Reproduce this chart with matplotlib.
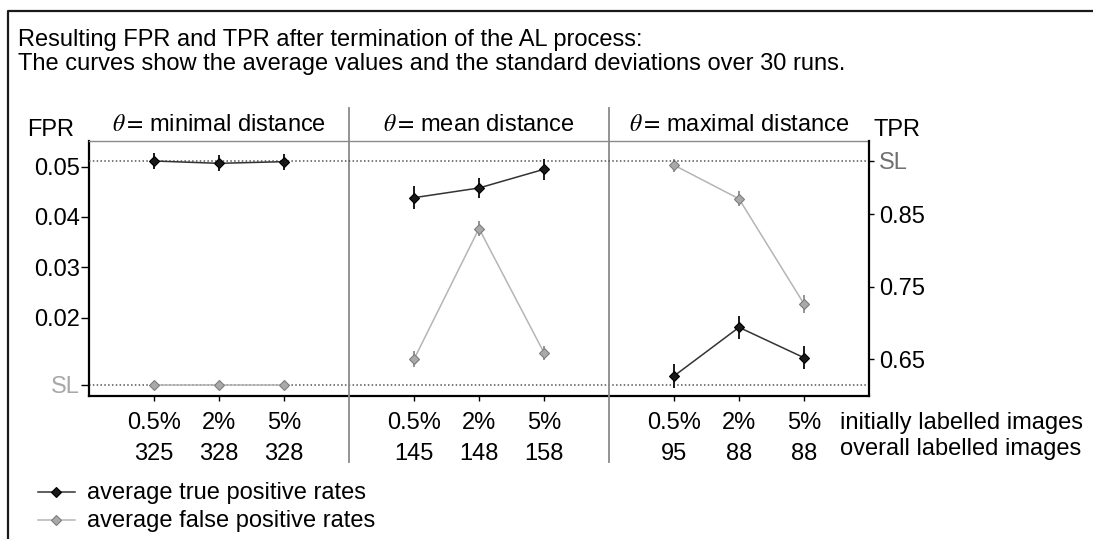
import matplotlib
matplotlib.use("Agg")
import matplotlib.pyplot as plt
from matplotlib.lines import Line2D
from matplotlib import transforms

plt.rcParams['font.family'] = ['Liberation Sans', 'DejaVu Sans']
plt.rcParams['mathtext.fontset'] = 'stix'

# ---- data ---------------------------------------------------------------
panel_titles = [r'$\theta=\,$minimal distance',
                r'$\theta=\,$mean distance',
                r'$\theta=\,$maximal distance']
initial_pct = ['0.5%', '2%', '5%']
overall_labelled = [325, 328, 328, 145, 148, 158, 95, 88, 88]

tpr_mean = [0.9235, 0.9203, 0.9226, 0.8729, 0.8863, 0.9121, 0.6270, 0.6941, 0.6522]
tpr_std = [0.0115, 0.0110, 0.0110, 0.0156, 0.0133, 0.0147, 0.0160, 0.0159, 0.0160]
fpr_mean = [0.0066, 0.0066, 0.0066, 0.0117, 0.0377, 0.0130, 0.0503, 0.0436, 0.0227]
fpr_std = [0.0002, 0.0002, 0.0002, 0.00156, 0.0014, 0.0014, 0.0013, 0.0015, 0.0017]

fpr_sl = 0.0066
tpr_sl = 0.924
fpr_ticks = [0.02, 0.03, 0.04, 0.05]
tpr_ticks = [0.65, 0.75, 0.85]

# ---- figure ---------------------------------------------------------------
W, H = 1093, 539
FS = 17
fig = plt.figure(figsize=(W / 100, H / 100), dpi=100)


def fx(px):
    return px / W


def fy(py):
    return 1 - py / H


ax = fig.add_axes([fx(89), fy(396), fx(869) - fx(89), fy(141) - fy(396)])
ax2 = ax.twinx()

n_panels = len(panel_titles)
n_per = len(initial_pct)
xs = [p * (n_per + 1) + i + 1 for p in range(n_panels) for i in range(n_per)]

TPR_C = '#1a1a1a'
FPR_LINE = '#b5b5b5'
FPR_FACE = '#a9a9a9'
FPR_EDGE = '#7d7d7d'

for p in range(n_panels):
    sl = slice(p * n_per, (p + 1) * n_per)
    ax.errorbar(xs[sl], fpr_mean[sl], yerr=fpr_std[sl], fmt='-D',
                color=FPR_LINE, lw=1.1, ecolor='#8c8c8c', elinewidth=1.3,
                capsize=0, markersize=5.0, markerfacecolor=FPR_FACE,
                markeredgecolor=FPR_EDGE, markeredgewidth=0.8, zorder=3)
    ax2.errorbar(xs[sl], tpr_mean[sl], yerr=tpr_std[sl], fmt='-D',
                 color='#333333', lw=1.1, ecolor=TPR_C, elinewidth=1.4,
                 capsize=0, markersize=5.0, markerfacecolor=TPR_C,
                 markeredgecolor='#000000', markeredgewidth=0.8, zorder=3)

ax.axhline(fpr_sl, ls=(0, (1, 1.5)), color='#555555', lw=1.1, zorder=1)
ax2.axhline(tpr_sl, ls=(0, (1, 1.5)), color='#555555', lw=1.1, zorder=1)

ax.set_xlim(0, n_panels * (n_per + 1))
ax.set_ylim(0.0044, 0.0551)
ax2.set_ylim(0.5994, 0.9511)

ax.set_xticks(xs, [f'{initial_pct[i % n_per]}\n{n}' for i, n in enumerate(overall_labelled)])
for lbl in ax.get_xticklabels():
    lbl.set_linespacing(1.5)
ax.set_yticks([fpr_sl] + fpr_ticks, ['SL'] + [f'{v:.2f}' for v in fpr_ticks])
ax2.set_yticks(tpr_ticks + [tpr_sl], [f'{v:.2f}' for v in tpr_ticks] + ['SL'])

ax.tick_params(axis='y', length=5.8, width=1, pad=0.8, labelsize=FS, colors='black')
ax.tick_params(axis='x', length=3.6, width=1, pad=8, labelsize=FS)
ax2.tick_params(axis='y', length=3.6, width=1, pad=3.6, labelsize=FS)
ax.get_yticklabels()[0].set_color('#a8a8a8')
ax2.get_yticklabels()[-1].set_color('#707070')

for name, sp in ax.spines.items():
    sp.set_linewidth(1.6)
    sp.set_color('black')
ax.spines['top'].set_color('#8a8a8a')
ax.spines['top'].set_linewidth(1.0)
ax.spines['right'].set_visible(False)
for name in ['left', 'top', 'bottom']:
    ax2.spines[name].set_visible(False)
ax2.spines['right'].set_linewidth(1.6)
ax2.spines['right'].set_color('black')

# panel separators, reaching from the title row down past the tick labels
trans = transforms.blended_transform_factory(ax.transData, fig.transFigure)
for p in range(1, n_panels):
    xv = p * (n_per + 1)
    ax.plot([xv, xv], [fy(108), fy(462)], transform=trans, color='#8a8a8a',
            lw=1.3, clip_on=False, zorder=5)

# panel headings
for p, title in enumerate(panel_titles):
    ax.text(p * (n_per + 1) + (n_per + 1) / 2, fy(131), title, transform=trans,
            ha='center', va='baseline', fontsize=FS)

fig.text(fx(51), fy(136), 'FPR', ha='center', va='baseline', fontsize=FS)
fig.text(fx(873), fy(136), 'TPR', ha='left', va='baseline', fontsize=FS)

fig.text(fx(18), fy(46), 'Resulting FPR and TPR after termination of the AL process:',
         ha='left', va='baseline', fontsize=FS)
fig.text(fx(18), fy(70), 'The curves show the average values and the standard deviations over 30 runs.',
         ha='left', va='baseline', fontsize=FS)

fig.text(fx(840), fy(429), 'initially labelled images', ha='left', va='baseline', fontsize=FS)
fig.text(fx(840), fy(455), 'overall labelled images', ha='left', va='baseline', fontsize=FS)

# legend
leg_rows = [
    (492, 'average true positive rates', '#333333', TPR_C, '#000000'),
    (520, 'average false positive rates', FPR_LINE, FPR_FACE, FPR_EDGE),
]
for py, label, lc, fc, ec in leg_rows:
    fig.add_artist(Line2D([fx(38), fx(75)], [fy(py), fy(py)], color=lc, lw=1.1))
    fig.add_artist(Line2D([fx(56)], [fy(py)], marker='D', markersize=5.0,
                          markerfacecolor=fc, markeredgecolor=ec, markeredgewidth=0.8))
    fig.text(fx(87), fy(py + 7), label, ha='left', va='baseline', fontsize=FS)

# outer frame (left and top edges)
fig.add_artist(Line2D([fx(8), fx(8), 1.0], [0.0, fy(11), fy(11)], color='#1a1a1a', lw=1.6))

fig.savefig('out.png', dpi=100)
